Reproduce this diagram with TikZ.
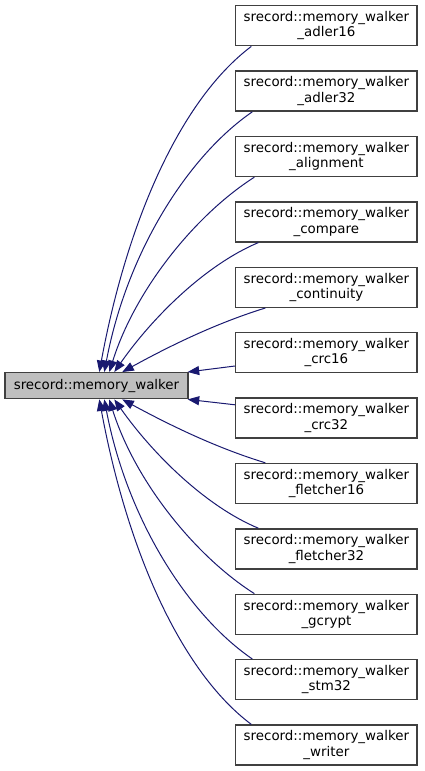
\documentclass[tikz,border=0pt]{standalone}
\usepackage{fontspec}
\setmainfont{DejaVu Sans}
\usetikzlibrary{arrows.meta}
\definecolor{edgec}{HTML}{191970}
\definecolor{boxb}{HTML}{404040}
\definecolor{boxf}{HTML}{BFBFBF}
\tikzset{
 cls/.style={draw=boxb, line width=1.4pt, minimum width=181.3pt, minimum height=40pt, inner sep=0pt, align=center, font=\fontsize{13.4}{15.5}\selectfont},
 basecls/.style={cls, fill=boxf, minimum width=183pt, minimum height=26pt},
 edge/.style={draw=edgec, line width=1pt, -{Triangle[length=11.5pt,width=9pt]}}
}
\begin{document}
\begin{tikzpicture}[x=1pt,y=-1pt]
\useasboundingbox (0,0) rectangle (424,771);
\node[basecls] (p) at (96.5,385.7) {srecord::memory\_walker};
\node[cls] (c0) at (326.4,25.7) {srecord::memory\_walker\\\_adler16};
\node[cls] (c1) at (326.4,91.1) {srecord::memory\_walker\\\_adler32};
\node[cls] (c2) at (326.4,156.5) {srecord::memory\_walker\\\_alignment};
\node[cls] (c3) at (326.4,221.9) {srecord::memory\_walker\\\_compare};
\node[cls] (c4) at (326.4,287.3) {srecord::memory\_walker\\\_continuity};
\node[cls] (c5) at (326.4,352.7) {srecord::memory\_walker\\\_crc16};
\node[cls] (c6) at (326.4,418.1) {srecord::memory\_walker\\\_crc32};
\node[cls] (c7) at (326.4,483.5) {srecord::memory\_walker\\\_fletcher16};
\node[cls] (c8) at (326.4,548.9) {srecord::memory\_walker\\\_fletcher32};
\node[cls] (c9) at (326.4,614.3) {srecord::memory\_walker\\\_gcrypt};
\node[cls] (c10) at (326.4,679.7) {srecord::memory\_walker\\\_stm32};
\node[cls] (c11) at (326.4,745.1) {srecord::memory\_walker\\\_writer};
% top edges
\draw[edge] ([xshift=16.3pt]c0.south west) .. controls (180,100) and (127,222) .. ([xshift=95pt]p.north west);
\draw[edge] ([xshift=17.3pt]c1.south west) .. controls (188,156) and (127,252) .. ([xshift=100pt]p.north west);
\draw[edge] ([xshift=19.3pt]c2.south west) .. controls (195,215) and (135,290) .. ([xshift=105pt]p.north west);
\draw[edge] ([xshift=23.3pt]c3.south west) .. controls (205,265) and (152,318) .. ([xshift=110pt]p.north west);
\draw[edge] ([xshift=30.3pt]c4.south west) .. controls (220,322) and (175,343) .. ([xshift=118pt]p.north west);
\draw[edge] ([yshift=-13.3pt]c5.west) -- ([xshift=-1pt]p.north east);
% bottom edges
\draw[edge] ([yshift=13.3pt]c6.west) -- ([xshift=-1pt]p.south east);
\draw[edge] ([xshift=30.3pt]c7.north west) .. controls (220,449) and (175,428) .. ([xshift=118pt]p.south west);
\draw[edge] ([xshift=23.3pt]c8.north west) .. controls (205,506) and (152,453) .. ([xshift=110pt]p.south west);
\draw[edge] ([xshift=19.3pt]c9.north west) .. controls (195,556) and (135,481) .. ([xshift=105pt]p.south west);
\draw[edge] ([xshift=17.3pt]c10.north west) .. controls (188,615) and (127,519) .. ([xshift=100pt]p.south west);
\draw[edge] ([xshift=16.3pt]c11.north west) .. controls (180,671) and (127,549) .. ([xshift=95pt]p.south west);
\end{tikzpicture}
\end{document}
